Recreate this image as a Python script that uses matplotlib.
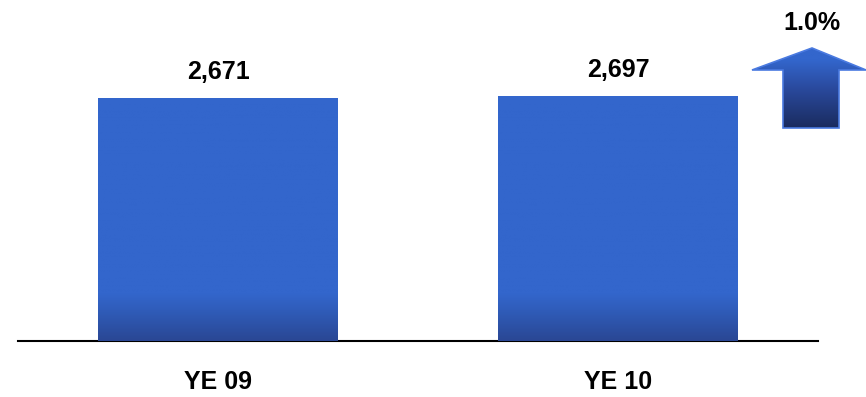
import numpy as np
import matplotlib
matplotlib.use('Agg')
import matplotlib.pyplot as plt
from matplotlib.colors import LinearSegmentedColormap
from matplotlib.patches import Polygon

plt.rcParams['font.family'] = ['Liberation Sans', 'DejaVu Sans']

# ===== data =====
categories = ['YE 09', 'YE 10']
values = [2671, 2697]
change_label = '1.0%'

bar_cmap = LinearSegmentedColormap.from_list(
    'bar', [(0.0, '#2a4794'), (0.12, '#2f5bb7'), (0.2, '#3366cc'), (1.0, '#3366cc')])
arrow_cmap = LinearSegmentedColormap.from_list(
    'arrow', [(0.0, '#1a2b5e'), (0.5, '#2a4a9e'), (0.85, '#3366cc'), (1.0, '#3366cc')])

W, H = 866, 397
fig = plt.figure(figsize=(W / 100, H / 100), dpi=100)
ax = fig.add_axes([18 / W, 56 / H, 800 / W, 341 / H])

x = np.arange(len(categories))
bars = ax.bar(x, values, width=0.6, color='#3366cc', zorder=2)

# vertical gradient inside each bar (darker near the baseline)
grad = np.linspace(0, 1, 256).reshape(-1, 1)
for b in bars:
    x0, w, h = b.get_x(), b.get_width(), b.get_height()
    im = ax.imshow(grad, cmap=bar_cmap, origin='lower', aspect='auto',
                   extent=[x0, x0 + w, 0, 2600], zorder=3, vmin=0, vmax=1)
    im.set_clip_path(b)
    ax.text(x0 + w / 2, h + 150, f'{h:,}', ha='center', va='bottom',
            fontsize=18, fontweight='bold', color='black')

ax.set_xlim(-0.5, 1.5)
ax.set_ylim(0, 3748)

for s in ['top', 'right', 'left']:
    ax.spines[s].set_visible(False)
ax.spines['bottom'].set_linewidth(1.5)
ax.spines['bottom'].set_color('black')
ax.set_yticks([])
ax.set_xticks(x)
ax.set_xticklabels(categories, fontsize=18, fontweight='bold')
ax.tick_params(axis='x', length=0, pad=21)

# up-arrow showing the year-over-year change, in pixel coords
aax = fig.add_axes([0, 0, 1, 1], zorder=5)
aax.set_axis_off()
pts = [(812, 48), (866, 70), (839, 70), (839, 128), (783, 128), (783, 70), (752, 70)]
arrow = Polygon(pts, closed=True, facecolor='none', edgecolor='#4a7ae0',
                linewidth=1.2, zorder=3)
aax.add_patch(arrow)
im = aax.imshow(grad, cmap=arrow_cmap, origin='lower', aspect='auto',
                extent=[752, 866, 128, 48], zorder=2, vmin=0, vmax=1)
im.set_clip_path(arrow)
aax.set_xlim(0, W)
aax.set_ylim(H, 0)
aax.text(812, 23, change_label, ha='center', va='center',
         fontsize=18, fontweight='bold')

fig.savefig('out.png', dpi=100)
